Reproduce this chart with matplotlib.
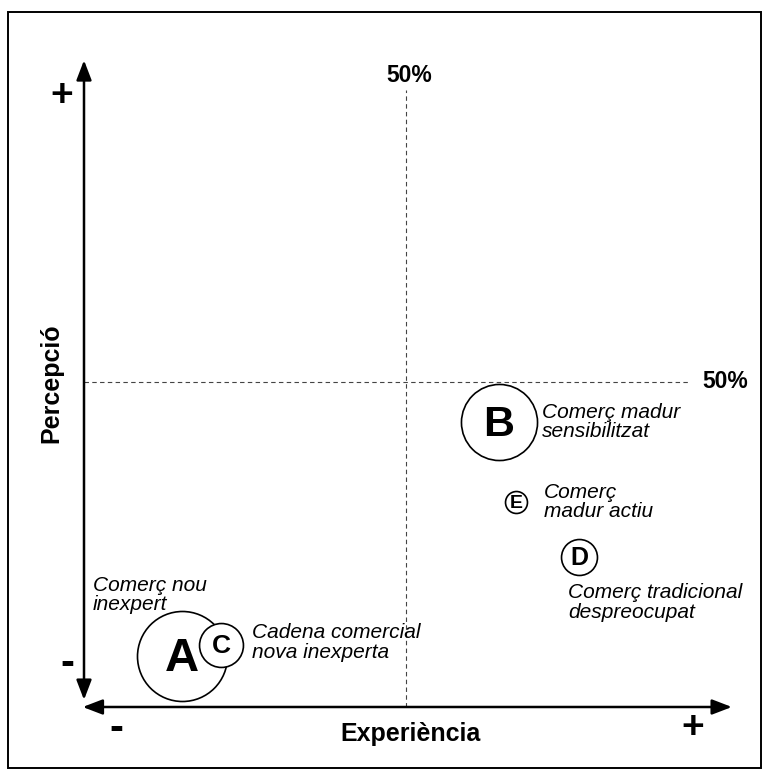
import matplotlib.pyplot as plt
from matplotlib.patches import Rectangle

plt.rcParams['font.family'] = ['Liberation Sans', 'DejaVu Sans']

# dades (eix 0-100 en percentatge)
lletres = ['A', 'C', 'B', 'E', 'D']
experiencia = [15.2, 21.3, 64.4, 67.1, 76.9]
percepcio = [7.8, 9.5, 43.8, 31.5, 23.1]
mida = [4200, 1000, 3000, 250, 670]
etiquetes = ['Comerç nou\ninexpert', 'Cadena comercial\nnova inexperta',
             'Comerç madur\nsensibilitzat', 'Comerç\nmadur actiu',
             'Comerç tradicional\ndespreocupat']
llindar = 50

# estil de cada bombolla
mida_lletra = [34, 19, 31, 14, 18]
desplac = [(-64, 58), (22, 16), (31, 14), (20, 14), (-8, -19)]

W, H = 769, 776
fig = plt.figure(figsize=(W / 100, H / 100), dpi=100)
ax = fig.add_axes([0, 0, 1, 1])
# escala: 0 -> px 84 / 707, 50 -> px 406 / 382
sx, sy = 6.44, 6.5
ax.set_xlim(-84 / sx, (W - 84) / sx)
ax.set_ylim((707 - H) / sy, 707 / sy)
ax.axis('off')

# marc exterior
fig.patches.append(Rectangle((7.5 / W, 1 - 768 / H), (761 - 7.5) / W, (768 - 11.5) / H,
                             transform=fig.transFigure, fill=False, lw=1.4, ec='black'))

# eixos amb fletxes
fletxa = dict(arrowstyle='<|-|>,head_length=12,head_width=4.6', mutation_scale=1,
              lw=1.8, color='black', shrinkA=0, shrinkB=0)
ax.annotate('', xy=(0, 99.5), xytext=(0, 1.1), arrowprops=fletxa)
ax.annotate('', xy=(100.6, 0), xytext=(-0.2, 0), arrowprops=fletxa)

# línies del 50%
ax.plot([llindar, llindar], [0, 95], color='#444444', lw=0.8, ls=(0, (4, 3)))
ax.plot([0, 94.1], [llindar, llindar], color='#444444', lw=0.8, ls=(0, (4, 3)))
ax.text(llindar + 0.5, 97.2, '50%', fontsize=16.5, fontweight='bold', ha='center', va='center')
ax.text(99.5, llindar, '50%', fontsize=16.5, fontweight='bold', ha='center', va='center')

# bombolles
for i in range(len(lletres)):
    ax.scatter(experiencia[i], percepcio[i], s=mida[i], facecolor='white',
               edgecolor='black', linewidth=1.2, zorder=3 + i)
    # lletra centrada (una mica amunt) sobre l'alçada de majúscula
    ax.annotate(lletres[i], xy=(experiencia[i], percepcio[i]),
                xytext=(0, -0.31 * mida_lletra[i]), textcoords='offset points',
                fontsize=mida_lletra[i], fontweight='bold', ha='center', va='baseline',
                zorder=3 + i)
    ax.annotate(etiquetes[i], xy=(experiencia[i], percepcio[i]), xytext=desplac[i],
                textcoords='offset points', fontsize=15, fontstyle='italic',
                ha='left', va='top', linespacing=1.04, zorder=10)

# signes dels extrems
ax.text((62 - 84) / sx, (707 - 96) / sy, '+', fontsize=28, fontweight='bold', ha='center', va='center')
ax.text((67 - 84) / sx, (707 - 664) / sy, '-', fontsize=30, fontweight='bold', ha='center', va='center')
ax.text((116 - 84) / sx, (707 - 729) / sy, '-', fontsize=30, fontweight='bold', ha='center', va='center')
ax.text((693 - 84) / sx, (707 - 728) / sy, '+', fontsize=28, fontweight='bold', ha='center', va='center')

# títols dels eixos
fig.text(410 / W, 1 - 734 / H, 'Experiència', fontsize=18, fontweight='bold', ha='center', va='center')
fig.text(51 / W, 1 - 383 / H, 'Percepció', fontsize=18, fontweight='bold', ha='center',
         va='center', rotation=90)

fig.savefig('out.png', dpi=100, facecolor='white')
